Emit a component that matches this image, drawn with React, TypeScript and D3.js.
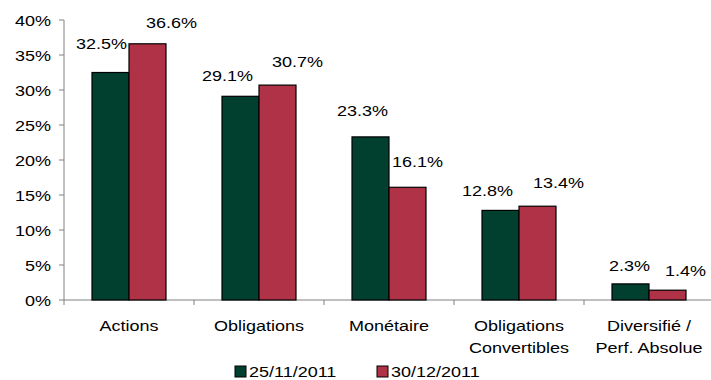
import React from "react";
import * as d3 from "d3";

const categories: string[][] = [
  ["Actions"],
  ["Obligations"],
  ["Monétaire"],
  ["Obligations", "Convertibles"],
  ["Diversifié /", "Perf. Absolue"],
];
const seriesNames = ["25/11/2011", "30/12/2011"];
const values1 = [32.5, 29.1, 23.3, 12.8, 2.3];
const values2 = [36.6, 30.7, 16.1, 13.4, 1.4];
const yTicks = [0, 5, 10, 15, 20, 25, 30, 35, 40];
const colors = ["#013F2F", "#B03247"];
// manual label placement (offset from bar centre / bar top)
const labelDx = [
  [-9, -13, -8, -13, -1],
  [24, 20, 10, 21, 18],
];
const labelDy = [
  [24, 15, 21, 14, 13],
  [16, 18, 20, 18, 14],
];

const W = 711;
const H = 380;
const FONT = "'Liberation Sans', Arial, sans-serif";
const SX = 1.2;

export default function App() {
  const y = d3.scaleLinear().domain([0, 40]).range([300, 20]);
  const keys = categories.map((c) => c.join(" "));
  const x = d3.scaleBand<string>().domain(keys).range([64, 714]).padding(0);
  const inner = d3
    .scaleBand<number>()
    .domain([0, 1])
    .range([28, 102])
    .padding(0);
  const series = [values1, values2];
  const fmt = (v: number) => d3.format(".1f")(v) + "%";

  const txt = (
    xx: number,
    yy: number,
    s: string,
    anchor: "start" | "middle" | "end",
    key: string
  ) => (
    <text
      key={key}
      transform={`translate(${xx},${yy}) scale(${SX},1)`}
      textAnchor={anchor}
      fontSize={15}
      fontFamily={FONT}
      fill="#000"
    >
      {s}
    </text>
  );

  return (
    <svg
      width={W}
      height={H}
      style={{ position: "absolute", left: 0, top: 0, background: "#fff" }}
    >
      {/* y axis */}
      <line x1={64} x2={64} y1={y(40)} y2={y(0)} stroke="#808080" strokeWidth={1} />
      {yTicks.map((t) => (
        <g key={"yt" + t}>
          <line x1={59} x2={64} y1={y(t)} y2={y(t)} stroke="#808080" />
          {txt(51, y(t) + 6, t + "%", "end", "yl" + t)}
        </g>
      ))}
      {/* x axis */}
      <line x1={64} x2={711} y1={y(0)} y2={y(0)} stroke="#808080" />
      {keys.map((k) => (
        <line
          key={"xt" + k}
          x1={x(k)!}
          x2={x(k)!}
          y1={y(0)}
          y2={y(0) + 5}
          stroke="#808080"
        />
      ))}
      {/* bars */}
      {keys.map((k, i) =>
        series.map((vals, s) => {
          const bx = x(k)! + inner(s)!;
          const bw = inner.bandwidth();
          return (
            <rect
              key={"b" + i + "-" + s}
              x={bx}
              y={y(vals[i])}
              width={bw}
              height={y(0) - y(vals[i])}
              fill={colors[s]}
              stroke="#000"
              strokeWidth={1.2}
            />
          );
        })
      )}
      {/* value labels */}
      {keys.map((k, i) =>
        series.map((vals, s) => {
          const cx = x(k)! + inner(s)! + inner.bandwidth() / 2 + labelDx[s][i];
          const cy = y(vals[i]) - labelDy[s][i];
          return txt(cx, cy, fmt(vals[i]), "middle", "l" + i + "-" + s);
        })
      )}
      {/* category labels */}
      {categories.map((lines, i) =>
        lines.map((ln, j) =>
          txt(
            x(keys[i])! + x.bandwidth() / 2,
            331 + j * 22,
            ln,
            "middle",
            "c" + i + "-" + j
          )
        )
      )}
      {/* legend */}
      {seriesNames.map((n, s) => {
        const lx = 235 + s * 142;
        return (
          <g key={"lg" + s}>
            <rect
              x={lx}
              y={366}
              width={11}
              height={11}
              fill={colors[s]}
              stroke="#000"
              strokeWidth={1}
            />
            {txt(lx + 14, 377, n, "start", "lt" + s)}
          </g>
        );
      })}
    </svg>
  );
}
